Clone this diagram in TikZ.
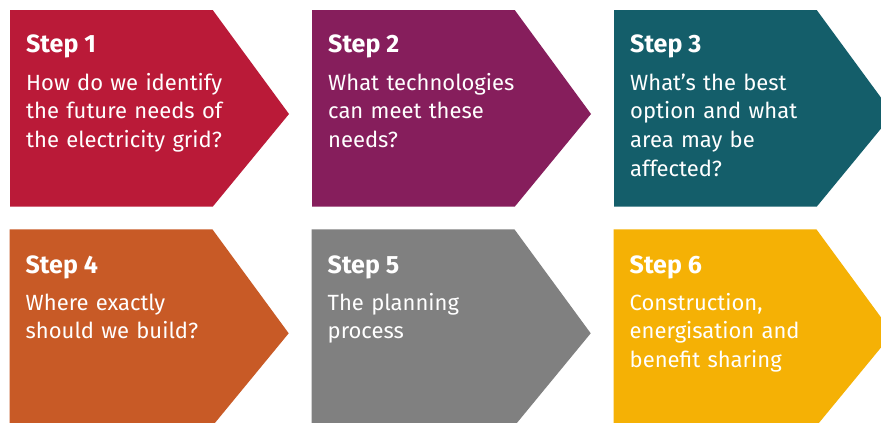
\documentclass[tikz,border=0pt]{standalone}
\usepackage{fontspec}
\setmainfont{Fira Sans}
\definecolor{cA}{HTML}{BA1A38}
\definecolor{cB}{HTML}{861E5C}
\definecolor{cC}{HTML}{145E6A}
\definecolor{cD}{HTML}{C85A26}
\definecolor{cE}{HTML}{808080}
\definecolor{cF}{HTML}{F5B105}
\newcommand\chevronshape[3]{\fill[#3] (#1,#2) -- ++(202.7,0) -- ++(76.3,104) -- ++(-76.3,92.7) -- ++(-202.7,0) -- cycle;}
\tikzset{
  head/.style={anchor=base west, inner sep=0pt, text=white, font=\bfseries\fontsize{25}{28}\selectfont},
  body/.style={anchor=base west, inner sep=0pt, text=white, align=left, text width=270pt, font=\fontsize{22}{28.7}\selectfont}
}
\begin{document}
\begin{tikzpicture}[x=1pt,y=-1pt]
\useasboundingbox (0,0) rectangle (881,423);
\clip (0,0) rectangle (881,423);
\fill[white] (0,0) rectangle (881,423);
\chevronshape{10}{10}{cA}
\chevronshape{312}{10}{cB}
\chevronshape{614}{10}{cC}
\chevronshape{9.7}{229.3}{cD}
\chevronshape{311.7}{229.3}{cE}
\chevronshape{613.7}{229.3}{cF}
\node[head] (h1) at (26,52.3) {Step 1};
\node[body] (b1) at (26,90) {How do we identify\\the future needs of\\the electricity grid?};
\node[head] (h2) at (328,52.3) {Step 2};
\node[body] (b2) at (328,90) {What technologies\\can meet these\\needs?};
\node[head] (h3) at (630,52.3) {Step 3};
\node[body] (b3) at (630,90) {What’s the best\\option and what\\area may be\\affected?};
\node[head] (h4) at (25.5,273.3) {Step 4};
\node[body] (b4) at (25.5,310) {Where exactly\\should we build?};
\node[head] (h5) at (327.5,273.3) {Step 5};
\node[body] (b5) at (327.5,310) {The planning\\process};
\node[head] (h6) at (629.5,273.3) {Step 6};
\node[body] (b6) at (629.5,310) {Construction,\\energisation and\\benefit sharing};
\end{tikzpicture}
\end{document}
